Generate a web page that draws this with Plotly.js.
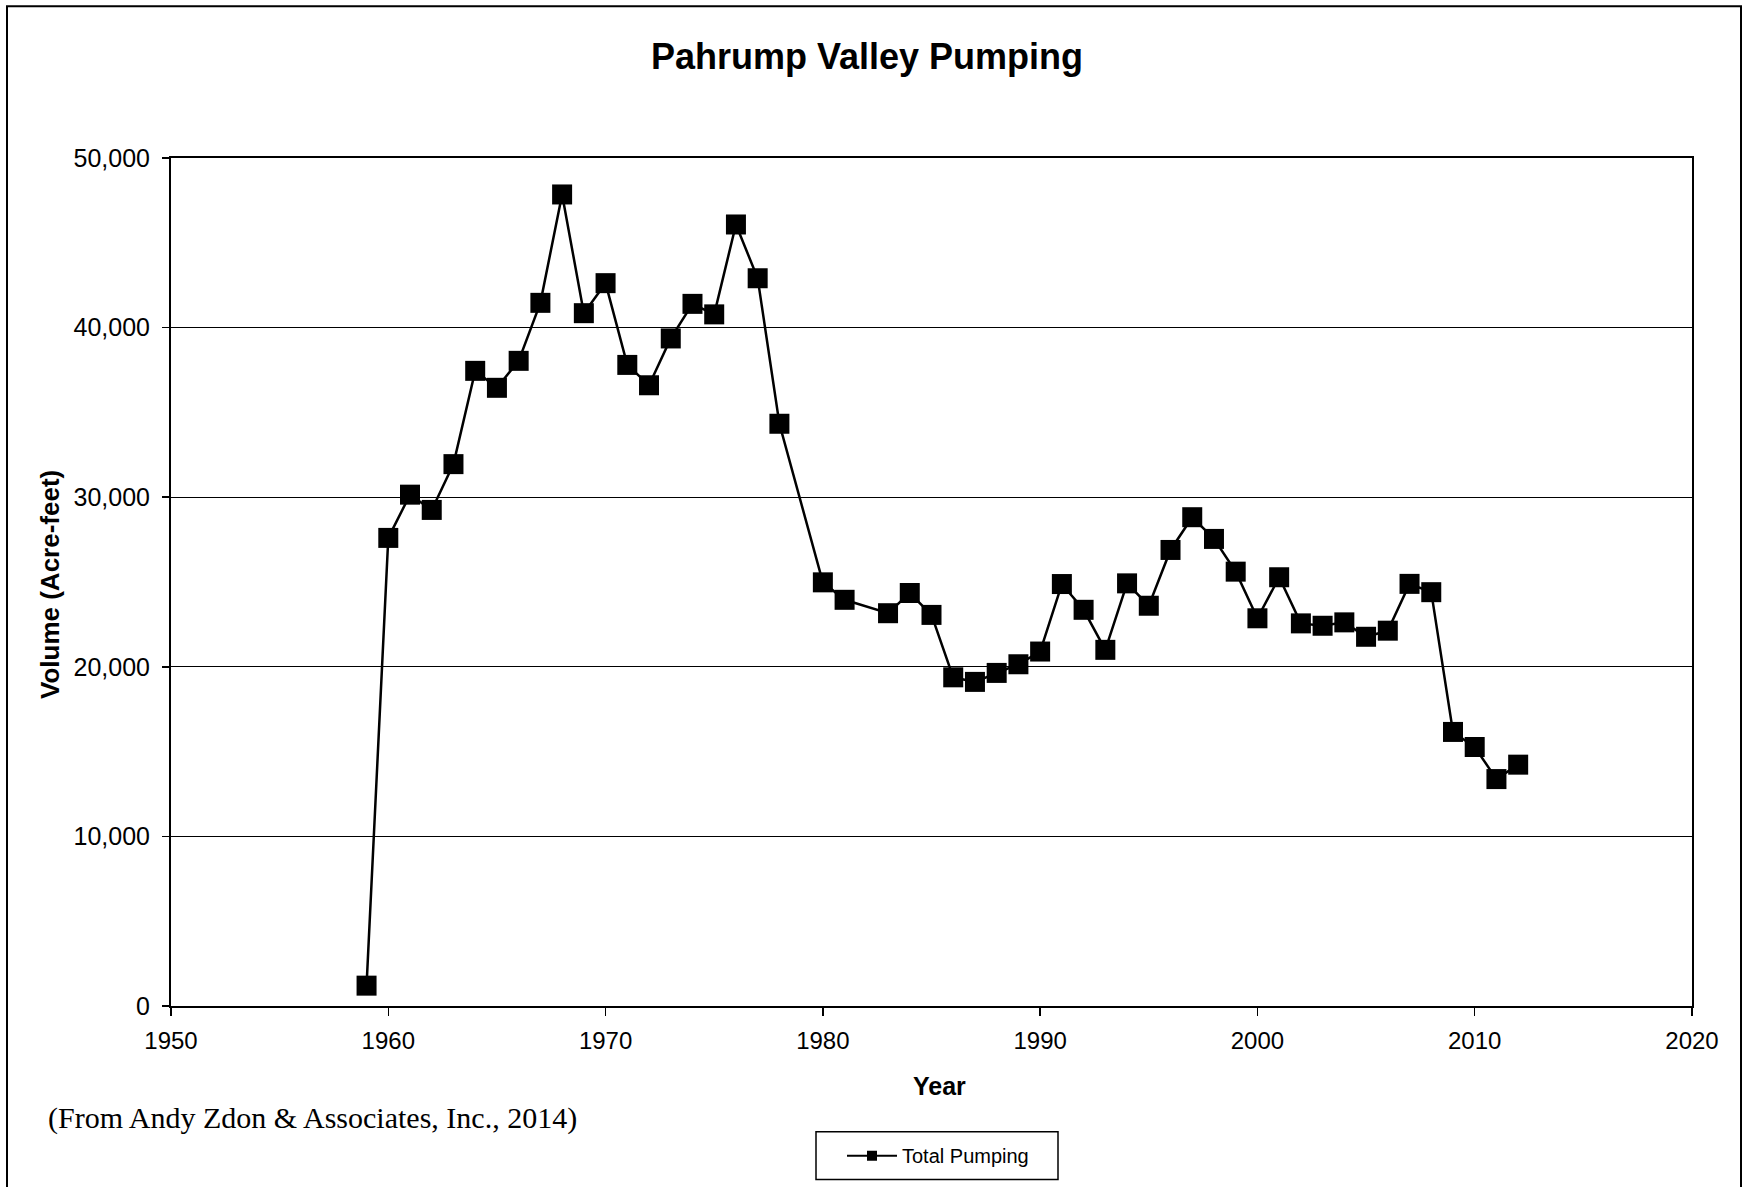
<!DOCTYPE html>
<html>
<head>
<meta charset="utf-8">
<script src="https://cdn.plot.ly/plotly-3.0.1.min.js"></script>
<style>
  html, body { margin: 0; padding: 0; background: #ffffff; }
  #chart { width: 1744px; height: 1187px; }
</style>
</head>
<body>
<div id="chart"></div>
<script>
// ---- Data ----
const years = [1959, 1960, 1961, 1962, 1963, 1964, 1965, 1966, 1967, 1968, 1969,
               1970, 1971, 1972, 1973, 1974, 1975, 1976, 1977, 1978,
               1980, 1981, 1983, 1984, 1985, 1986, 1987, 1988, 1989,
               1990, 1991, 1992, 1993, 1994, 1995, 1996, 1997, 1998, 1999,
               2000, 2001, 2002, 2003, 2004, 2005, 2006, 2007, 2008, 2009,
               2010, 2011, 2012];
const totalPumping = [1200, 27600, 30150, 29250, 31950, 37450, 36450, 38040, 41460, 47850, 40850,
                      42620, 37800, 36600, 39360, 41400, 40780, 46080, 42910, 34330,
                      24980, 23950, 23160, 24350, 23060, 19380, 19110, 19640, 20150,
                      20900, 24880, 23360, 21000, 24920, 23600, 26890, 28820, 27540, 25610,
                      22860, 25280, 22560, 22420, 22620, 21770, 22130, 24890, 24400, 16160,
                      15270, 13380, 14230];
const seriesName = "Total Pumping";
const xTickVals = [1950, 1960, 1970, 1980, 1990, 2000, 2010, 2020];
const yTickVals = [0, 10000, 20000, 30000, 40000, 50000];
const yTickText = ["0", "10,000", "20,000", "30,000", "40,000", "50,000"];
const titleText = "Pahrump Valley Pumping";
const xTitleText = "Year";
const yTitleText = "Volume (Acre-feet)";
const sourceText = "(From Andy Zdon & Associates, Inc., 2014)";

// ---- Layout geometry ----
const W = 1744, H = 1187;
const L = 171, R = 52, T = 158, B = 179;
const PW = W - L - R, PH = H - T - B;
const px = v => (v - L) / PW;          // pixel x -> paper x
const py = v => (H - B - v) / PH;      // pixel y -> paper y

const sans = "Liberation Sans, Arial, sans-serif";

const traces = [
  {
    x: years, y: totalPumping, type: "scatter", mode: "lines+markers",
    name: seriesName, showlegend: false,
    line: { color: "#000000", width: 2.5 },
    marker: { symbol: "square", size: 20, color: "#000000" },
    hoverinfo: "x+y"
  },
  {
    x: [null], y: [null], type: "scatter", mode: "lines+markers",
    name: seriesName, showlegend: true,
    line: { color: "#000000", width: 2 },
    marker: { symbol: "square", size: 10, color: "#000000" }
  }
];

const layout = {
  width: W, height: H,
  margin: { l: L, r: R, t: T, b: B, pad: 0 },
  paper_bgcolor: "#ffffff", plot_bgcolor: "#ffffff",
  font: { family: sans, color: "#000000", size: 20 },
  title: {
    text: "<b>" + titleText + "</b>",
    font: { family: sans, size: 36, color: "#000000" },
    xref: "container", yref: "container",
    x: 867 / W, y: 1 - 56 / H, xanchor: "center", yanchor: "middle"
  },
  xaxis: {
    range: [1950, 2020], tickvals: xTickVals, ticktext: xTickVals.map(String),
    showgrid: false, zeroline: false,
    showline: true, linecolor: "#000000", linewidth: 2, mirror: true,
    ticks: "outside", ticklen: 8, tickwidth: 1.5, tickcolor: "#000000",
    tickfont: { family: sans, size: 24, color: "#000000" },
    ticklabelstandoff: 4
  },
  yaxis: {
    range: [0, 50000], tickvals: yTickVals, ticktext: yTickText,
    showgrid: true, gridcolor: "#000000", gridwidth: 1.3,
    zeroline: false,
    showline: true, linecolor: "#000000", linewidth: 2, mirror: true,
    ticks: "outside", ticklen: 7, tickwidth: 1.5, tickcolor: "#000000",
    tickfont: { family: sans, size: 25, color: "#000000" },
    ticklabelstandoff: 7
  },
  showlegend: true,
  legend: {
    x: px(842), y: py(1158), xanchor: "left", yanchor: "middle",
    borderwidth: 0, bgcolor: "rgba(0,0,0,0)",
    font: { family: sans, size: 20, color: "#000000" },
    itemwidth: 50, tracegroupgap: 0
  },
  annotations: [
    {
      text: "<b>" + yTitleText + "</b>", textangle: -90,
      xref: "paper", yref: "paper", x: px(50), y: py(586),
      xanchor: "center", yanchor: "middle", showarrow: false,
      font: { family: sans, size: 26, color: "#000000" }
    },
    {
      text: "<b>" + xTitleText + "</b>",
      xref: "paper", yref: "paper", x: px(940), y: py(1088),
      xanchor: "center", yanchor: "middle", showarrow: false,
      font: { family: sans, size: 25, color: "#000000" }
    },
    {
      text: sourceText,
      xref: "paper", yref: "paper", x: px(46), y: py(1120),
      xanchor: "left", yanchor: "middle", showarrow: false,
      font: { family: "Liberation Serif, Times New Roman, serif", size: 30, color: "#000000" }
    }
  ],
  shapes: [
    {
      type: "rect", xref: "paper", yref: "paper",
      x0: px(7), x1: px(1741), y0: py(1195), y1: py(6),
      line: { color: "#000000", width: 2 }, fillcolor: "rgba(0,0,0,0)", layer: "below"
    },
    {
      type: "rect", xref: "paper", yref: "paper",
      x0: px(816), x1: px(1058), y0: py(1182), y1: py(1134),
      line: { color: "#000000", width: 1.5 }, fillcolor: "rgba(0,0,0,0)", layer: "below"
    }
  ]
};

Plotly.newPlot("chart", traces, layout, { displayModeBar: false, staticPlot: true });
</script>
</body>
</html>
